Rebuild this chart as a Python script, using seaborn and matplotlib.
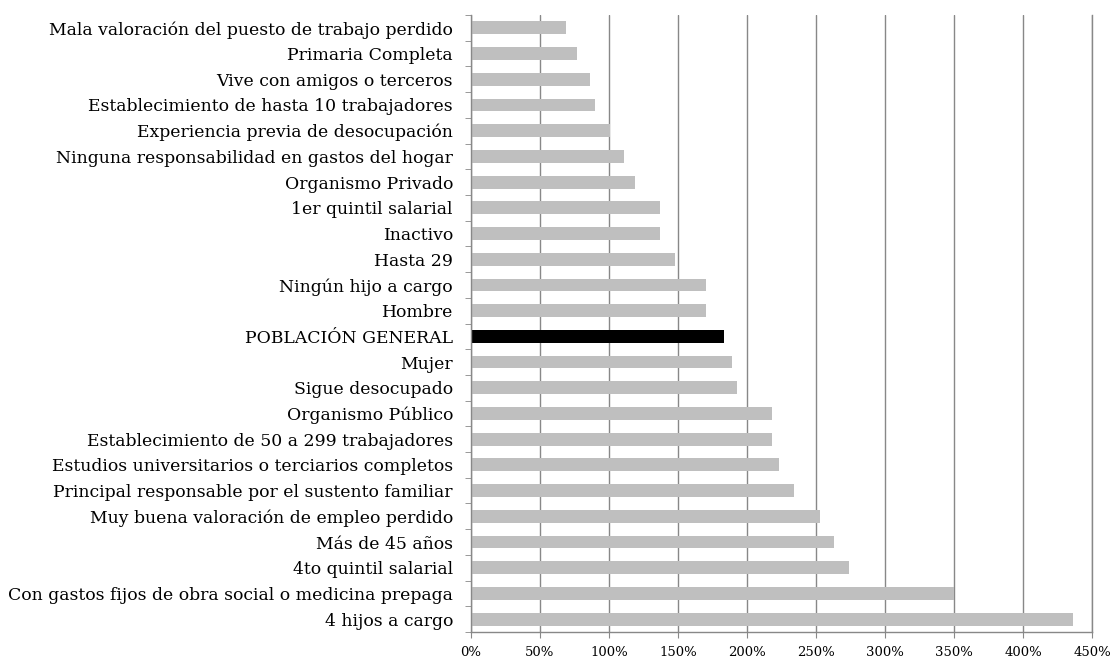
import numpy as np
import matplotlib
matplotlib.use("Agg")
import matplotlib.pyplot as plt
import seaborn as sns
from matplotlib.ticker import FixedLocator, PercentFormatter

# data, top to bottom as in the chart
categories = [
    "Mala valoración del puesto de trabajo perdido",
    "Primaria Completa",
    "Vive con amigos o terceros",
    "Establecimiento de hasta 10 trabajadores",
    "Experiencia previa de desocupación",
    "Ninguna responsabilidad en gastos del hogar",
    "Organismo Privado",
    "1er quintil salarial",
    "Inactivo",
    "Hasta 29",
    "Ningún hijo a cargo",
    "Hombre",
    "POBLACIÓN GENERAL",
    "Mujer",
    "Sigue desocupado",
    "Organismo Público",
    "Establecimiento de 50 a 299 trabajadores",
    "Estudios universitarios o terciarios completos",
    "Principal responsable por el sustento familiar",
    "Muy buena valoración de empleo perdido",
    "Más de 45 años",
    "4to quintil salarial",
    "Con gastos fijos de obra social o medicina prepaga",
    "4 hijos a cargo",
]
values = [69, 77, 86, 90, 101, 111, 119, 137, 137, 148, 170, 170,
          183, 189, 193, 218, 218, 223, 234, 253, 263, 274, 350, 436]
highlight = "POBLACIÓN GENERAL"

xticks = [0, 50, 100, 150, 200, 250, 300, 350, 400, 450]

sns.set_style("white")
plt.rcParams["font.family"] = ["DejaVu Serif"]
plt.rcParams["text.color"] = "black"
plt.rcParams["xtick.color"] = "black"
plt.rcParams["ytick.color"] = "black"

colors = {c: ("#000000" if c == highlight else "#bfbfbf") for c in categories}

fig, ax = plt.subplots(figsize=(11.14, 6.6), dpi=100)
fig.subplots_adjust(left=471 / 1114, right=1092 / 1114, top=1 - 15 / 660, bottom=1 - 632 / 660)

sns.barplot(x=values, y=categories, hue=categories, palette=colors,
            legend=False, width=0.5, saturation=1, linewidth=0, ax=ax)

ax.set_axisbelow(True)
ax.set_xlim(0, 450)
ax.set_ylim(len(categories) - 0.5, -0.5)
ax.xaxis.set_major_locator(FixedLocator(xticks))
ax.xaxis.set_major_formatter(PercentFormatter(decimals=0))
ax.grid(axis="x", color="#888888", linewidth=1.0)
ax.grid(axis="y", visible=False)

ax.spines["top"].set_visible(False)
for side in ["left", "bottom", "right"]:
    ax.spines[side].set_color("#888888")
    ax.spines[side].set_linewidth(1.0)

# tick marks sit between categories
ax.yaxis.set_minor_locator(FixedLocator(np.arange(-0.5, len(categories), 1)))
ax.tick_params(axis="y", which="major", length=0, pad=13, labelsize=12.4, labelcolor="black")
ax.tick_params(axis="y", which="minor", length=4, color="#888888", left=True, right=False)
ax.tick_params(axis="x", which="major", length=4, color="#888888", bottom=True,
               labelsize=9.5, pad=6, labelcolor="black")
ax.set_xlabel("")
ax.set_ylabel("")

plt.savefig("out.png", dpi=100)
